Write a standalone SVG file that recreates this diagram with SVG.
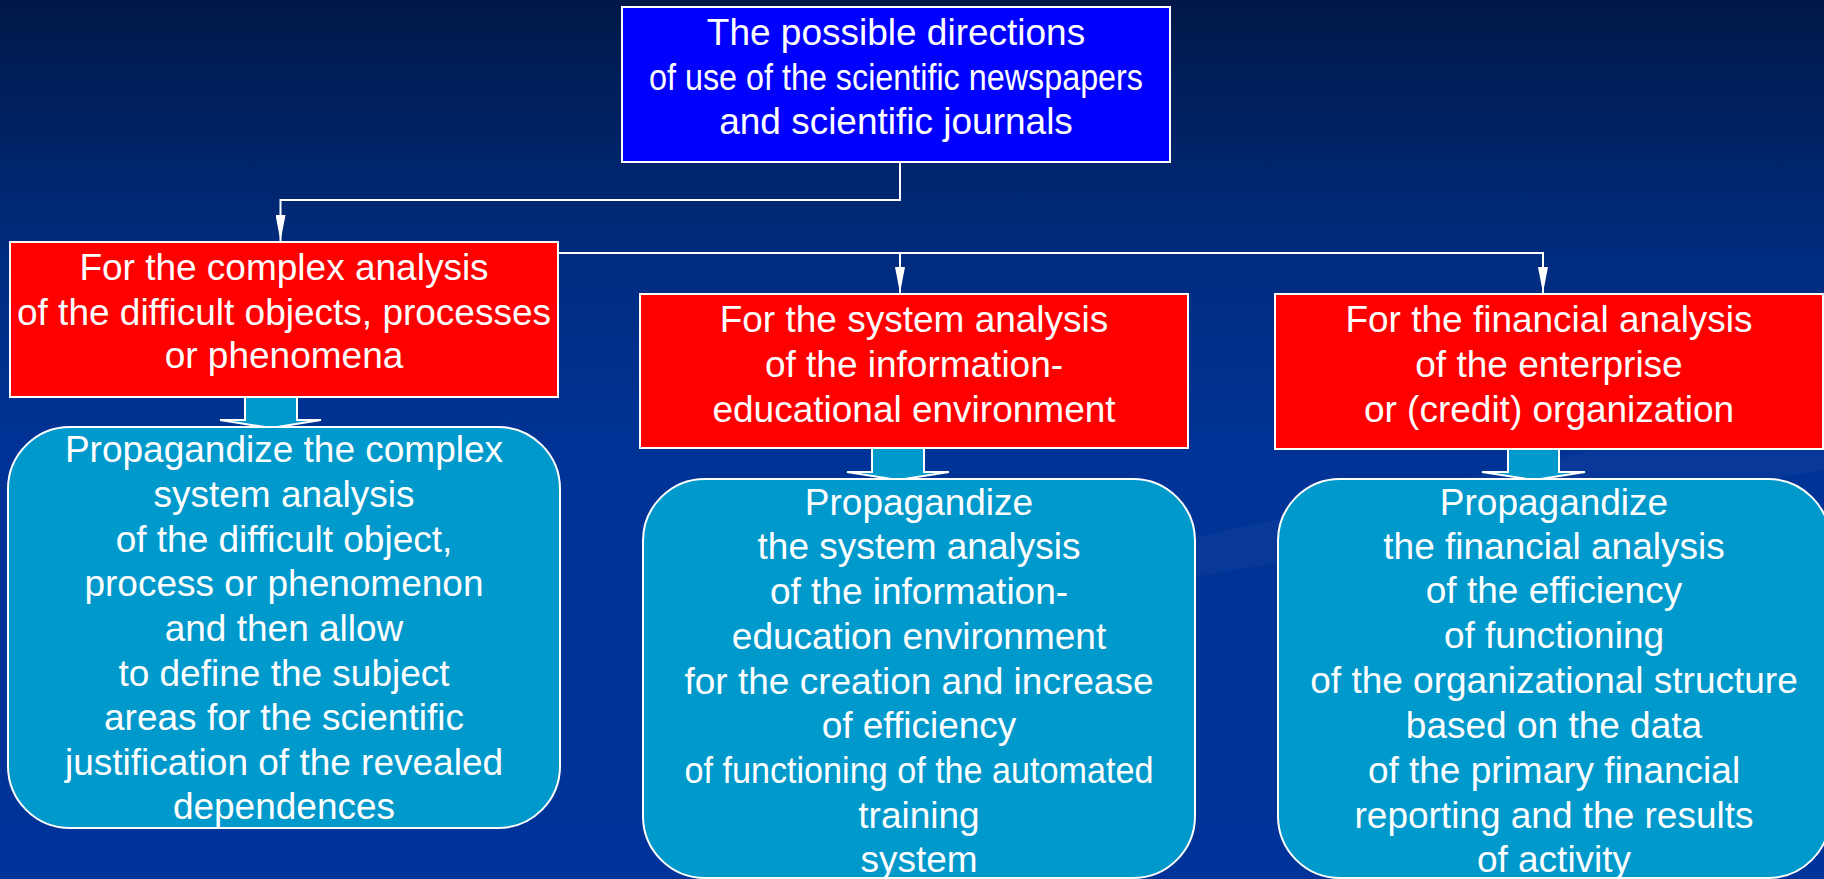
<svg xmlns="http://www.w3.org/2000/svg" width="1824" height="879" viewBox="0 0 1824 879">
<defs>
<linearGradient id="bg" x1="0" y1="0" x2="0" y2="1">
<stop offset="0" stop-color="#001848"/>
<stop offset="0.3" stop-color="#002c80"/>
<stop offset="0.5" stop-color="#003395"/>
<stop offset="1" stop-color="#003399"/>
</linearGradient>
<marker id="ah" viewBox="0 0 26 10" refX="26" refY="5" markerWidth="26" markerHeight="10" markerUnits="userSpaceOnUse" orient="auto">
<path d="M0,0 L26,5 L0,10 Z" fill="#ffffff"/>
</marker>
<style>
.t{font-family:"Liberation Sans",Arial,sans-serif;font-size:37px;fill:#ffffff;text-anchor:middle}
.red{fill:#ff0000;stroke:#ffffff;stroke-width:2}
.top{fill:#0000ff;stroke:#ffffff;stroke-width:2}
.rnd{fill:#0099cc;stroke:#ffffff;stroke-width:2}
.blk{fill:#0099cc;stroke:#ffffff;stroke-width:2;stroke-linejoin:miter}
.con{fill:none;stroke:#ffffff;stroke-width:2}
</style>
</defs>
<rect x="0" y="0" width="1824" height="879" fill="url(#bg)"/>
<polygon points="1000,580 1824,400 1824,470 1000,610" fill="#ffffff" opacity="0.03"/>

<g id="connectors">
<path class="con" d="M900,162 V200 H280.5 V241" marker-end="url(#ah)"/>
<path class="con" d="M558,253 H1543 V293" marker-end="url(#ah)"/>
<path class="con" d="M900,253 V293" marker-end="url(#ah)"/>
<polygon class="blk" points="245,397 297,397 297,420 321,420 271,428 220,420 245,420"/>
<polygon class="blk" points="872,448 924,448 924,472 949,472 898,480 847,472 872,472"/>
<polygon class="blk" points="1508,449 1559,449 1559,472 1585,472 1534,480 1482,472 1508,472"/>
</g>

<g id="top">
<rect class="top" x="622" y="7" width="548" height="155"/>
<text class="t" x="896" y="45">The possible directions</text>
<text class="t" x="896" y="90" textLength="494" lengthAdjust="spacingAndGlyphs">of use of the scientific newspapers</text>
<text class="t" x="896" y="134">and scientific journals</text>
</g>

<g id="red1">
<rect class="red" x="10" y="242" width="548" height="155"/>
<text class="t" x="284" y="280">For the complex analysis</text>
<text class="t" x="284" y="325">of the difficult objects, processes</text>
<text class="t" x="284" y="368">or phenomena</text>
</g>

<g id="red2">
<rect class="red" x="640" y="294" width="548" height="154"/>
<text class="t" x="914" y="332">For the system analysis</text>
<text class="t" x="914" y="377">of the information-</text>
<text class="t" x="914" y="422">educational environment</text>
</g>

<g id="red3">
<rect class="red" x="1275" y="294" width="548" height="155"/>
<text class="t" x="1549" y="332">For the financial analysis</text>
<text class="t" x="1549" y="377">of the enterprise</text>
<text class="t" x="1549" y="422">or (credit) organization</text>
</g>

<g id="prop1">
<rect class="rnd" x="8" y="427" width="552" height="401" rx="62" ry="62"/>
<text class="t" x="284" y="462">Propagandize the complex</text>
<text class="t" x="284" y="507">system analysis</text>
<text class="t" x="284" y="552">of the difficult object,</text>
<text class="t" x="284" y="596">process or phenomenon</text>
<text class="t" x="284" y="641">and then allow</text>
<text class="t" x="284" y="686">to define the subject</text>
<text class="t" x="284" y="730">areas for the scientific</text>
<text class="t" x="284" y="775">justification of the revealed</text>
<text class="t" x="284" y="819">dependences</text>
</g>

<g id="prop2">
<rect class="rnd" x="643" y="479" width="552" height="399" rx="62" ry="62"/>
<text class="t" x="919" y="515">Propagandize</text>
<text class="t" x="919" y="559">the system analysis</text>
<text class="t" x="919" y="604">of the information-</text>
<text class="t" x="919" y="649">education environment</text>
<text class="t" x="919" y="694">for the creation and increase</text>
<text class="t" x="919" y="738">of efficiency</text>
<text class="t" x="919" y="783" textLength="469" lengthAdjust="spacingAndGlyphs">of functioning of the automated</text>
<text class="t" x="919" y="828">training</text>
<text class="t" x="919" y="872">system</text>
</g>

<g id="prop3">
<rect class="rnd" x="1278" y="479" width="552" height="399" rx="62" ry="62"/>
<text class="t" x="1554" y="515">Propagandize</text>
<text class="t" x="1554" y="559">the financial analysis</text>
<text class="t" x="1554" y="603">of the efficiency</text>
<text class="t" x="1554" y="648">of functioning</text>
<text class="t" x="1554" y="693">of the organizational structure</text>
<text class="t" x="1554" y="738">based on the data</text>
<text class="t" x="1554" y="783">of the primary financial</text>
<text class="t" x="1554" y="828">reporting and the results</text>
<text class="t" x="1554" y="872">of activity</text>
</g>
</svg>
